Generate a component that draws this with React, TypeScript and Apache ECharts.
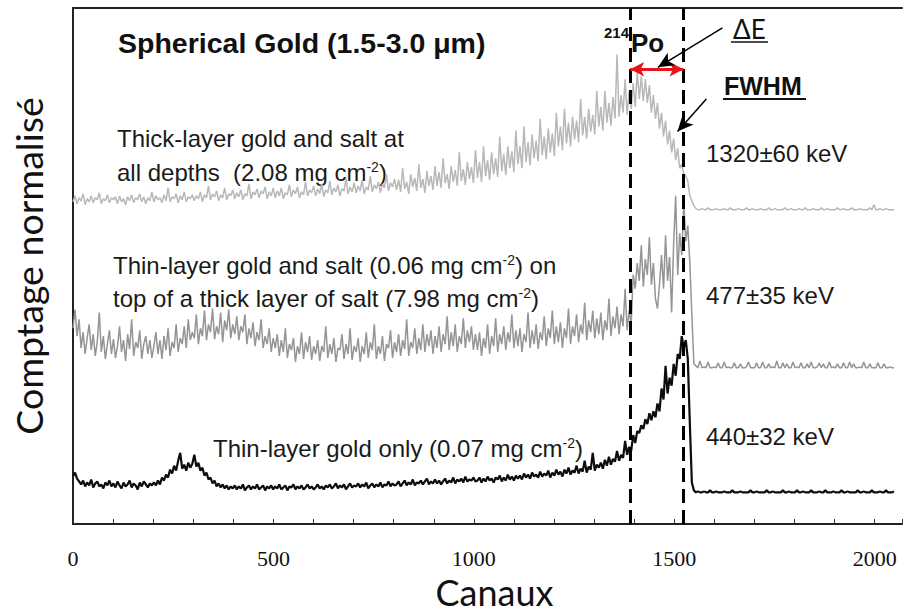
import React, { useEffect, useRef } from "react";
import * as echarts from "echarts";

// Spacing, in channels, of the readings below (channel = index * CHANNEL_STEP)
const CHANNEL_STEP = 5.045;
const X_MAX = 2068;
const Y_MIN = -2;
const Y_MAX = 520;
const X_LABELS = [0, 500, 1000, 1500, 2000];

// Thick-layer gold and salt at all depths (light grey, top trace)
const THICK_LAYER = [
  324, 330, 322, 328, 325, 332, 321, 327, 324, 330, 323, 328, 326, 333, 322, 327, 325, 331, 323, 328,
  326, 329, 322, 330, 324, 327, 321, 329, 325, 331, 323, 328, 326, 332, 324, 329, 322, 328, 325, 334,
  324, 330, 326, 328, 323, 331, 325, 338, 324, 329, 327, 332, 323, 330, 326, 334, 324, 329, 327, 331,
  325, 330, 327, 334, 324, 331, 328, 340, 326, 332, 329, 335, 325, 331, 328, 338, 326, 332, 330, 336,
  327, 333, 329, 336, 326, 332, 330, 342, 327, 334, 331, 337, 328, 335, 332, 339, 327, 334, 330, 338,
  328, 335, 330, 338, 327, 333, 331, 341, 329, 336, 332, 339, 328, 334, 331, 344, 330, 336, 333, 340,
  330, 337, 332, 342, 329, 336, 333, 345, 331, 338, 334, 341, 330, 337, 335, 348, 332, 339, 334, 343,
  333, 340, 335, 346, 332, 339, 336, 350, 334, 341, 337, 344, 333, 342, 338, 352, 335, 343, 339, 347,
  336, 346, 334, 358, 337, 344, 332, 352, 339, 348, 335, 362, 338, 347, 333, 355, 340, 350, 336, 360,
  340, 354, 338, 368, 343, 352, 337, 360, 344, 356, 340, 374, 345, 357, 341, 364, 347, 359, 343, 376,
  348, 364, 344, 380, 350, 366, 346, 374, 352, 368, 349, 390, 355, 372, 351, 380, 358, 375, 354, 396,
  362, 380, 358, 400, 364, 384, 361, 392, 368, 386, 365, 408, 371, 390, 367, 398, 374, 393, 370, 414,
  380, 400, 376, 418, 383, 404, 380, 410, 387, 406, 384, 428, 391, 410, 388, 418, 395, 412, 392, 436,
  400, 420, 396, 436, 404, 424, 401, 430, 408, 473, 410, 432, 414, 448, 412, 436, 418, 444, 420, 456,
  428, 451, 426, 448, 424, 442, 414, 432, 408, 424, 398, 414, 390, 406, 382, 396, 374, 388, 366, 378,
  358, 362, 352, 350, 345, 330, 325, 320, 317, 316, 316, 317, 316, 316, 318, 316, 316, 316, 317, 316,
  316, 316, 317, 316, 316, 318, 316, 316, 316, 317, 316, 316, 316, 318, 316, 316, 317, 316, 316, 316,
  317, 316, 316, 316, 318, 316, 316, 317, 316, 316, 316, 316, 318, 316, 316, 317, 316, 316, 316, 317,
  316, 316, 318, 316, 316, 316, 317, 316, 316, 316, 318, 316, 316, 317, 316, 316, 316, 316, 318, 316,
  316, 317, 316, 316, 316, 318, 316, 316, 316, 317, 316, 316, 316, 316, 318, 316, 321, 316, 316, 317,
  316, 316, 317, 316, 316, 316, 316,
];

// Thin-layer gold and salt on top of a thick layer of salt (mid grey)
const THIN_SALT = [
  196, 215, 188, 205, 176, 192, 170, 186, 200, 174, 190, 168, 182, 212, 172, 188, 165, 180, 194, 170,
  185, 166, 178, 198, 172, 184, 163, 190, 175, 205, 168, 182, 176, 194, 165, 180, 188, 170, 184, 166,
  178, 192, 170, 184, 165, 188, 174, 196, 168, 182, 176, 200, 172, 186, 180, 198, 176, 205, 184, 192,
  186, 210, 180, 196, 188, 214, 184, 200, 192, 216, 185, 198, 190, 212, 182, 204, 194, 215, 186, 200,
  190, 208, 184, 198, 192, 210, 180, 196, 186, 202, 178, 192, 184, 205, 176, 188, 180, 196, 172, 186,
  176, 190, 168, 184, 172, 196, 166, 180, 174, 186, 162, 178, 170, 192, 165, 182, 172, 188, 164, 178,
  170, 184, 163, 178, 172, 198, 166, 180, 170, 186, 162, 176, 174, 190, 165, 180, 170, 196, 164, 178,
  172, 186, 162, 178, 170, 192, 166, 182, 174, 200, 165, 178, 170, 188, 163, 180, 176, 194, 166, 182,
  172, 190, 168, 184, 175, 205, 168, 182, 176, 196, 170, 186, 174, 200, 172, 190, 178, 194, 170, 188,
  176, 198, 172, 190, 180, 208, 174, 192, 178, 200, 172, 188, 180, 206, 176, 194, 182, 198, 174, 190,
  174, 192, 168, 186, 176, 200, 170, 188, 178, 206, 172, 190, 180, 198, 174, 192, 182, 210, 176, 194,
  178, 196, 172, 190, 182, 212, 176, 194, 180, 200, 175, 192, 184, 208, 178, 196, 186, 214, 180, 198,
  182, 202, 176, 196, 186, 216, 180, 198, 188, 210, 182, 200, 190, 222, 184, 204, 192, 214, 186, 206,
  190, 212, 184, 204, 194, 226, 188, 208, 196, 218, 190, 210, 198, 236, 194, 214, 200, 250, 236, 262,
  244, 280, 238, 266, 250, 288, 240, 262, 226, 216, 240, 270, 236, 290, 244, 268, 212, 282, 330, 250,
  292, 270, 323, 284, 300, 262, 210, 160, 158, 156, 163, 156, 157, 156, 162, 156, 156, 157, 156, 161,
  156, 156, 162, 156, 157, 156, 156, 161, 156, 156, 160, 156, 156, 157, 162, 156, 156, 156, 161, 156,
  156, 162, 156, 156, 160, 156, 157, 156, 163, 156, 156, 161, 156, 160, 156, 156, 162, 156, 157, 156,
  161, 156, 156, 160, 156, 162, 156, 156, 157, 161, 156, 160, 156, 156, 162, 156, 157, 156, 160, 156,
  156, 161, 156, 156, 162, 156, 160, 156, 156, 157, 156, 162, 156, 156, 160, 156, 156, 156, 161, 156,
  156, 160, 156, 156, 157, 156, 156,
];

// Thin-layer gold only (black, bottom trace)
const THIN_GOLD = [
  46, 50, 44, 41, 38, 42, 36, 40, 37, 43, 35, 39, 41, 36, 38, 34, 40, 37, 42, 36,
  39, 35, 41, 37, 34, 40, 36, 38, 42, 35, 39, 37, 33, 40, 36, 41, 38, 35, 39, 37,
  40, 37, 42, 38, 45, 42, 48, 45, 53, 49, 57, 52, 62, 70, 54, 58, 52, 60, 55, 59,
  68, 56, 60, 52, 55, 47, 50, 43, 45, 39, 42, 36, 39, 35, 38, 34, 37, 33, 36, 34,
  37, 33, 36, 34, 38, 32, 35, 37, 33, 36, 34, 38, 33, 35, 37, 32, 36, 34, 37, 33,
  36, 34, 38, 33, 35, 37, 32, 36, 35, 38, 33, 36, 34, 37, 33, 35, 38, 34, 36, 33,
  35, 38, 34, 36, 33, 37, 35, 38, 34, 36, 39, 34, 37, 35, 38, 33, 36, 39, 35, 37,
  36, 39, 35, 38, 36, 40, 34, 37, 39, 35, 38, 36, 40, 35, 38, 37, 41, 36, 39, 37,
  38, 41, 36, 39, 42, 37, 40, 38, 43, 37, 40, 39, 42, 38, 41, 44, 38, 41, 39, 43,
  39, 42, 38, 41, 44, 39, 42, 40, 45, 39, 43, 41, 44, 40, 46, 41, 43, 42, 45, 41,
  42, 45, 40, 44, 41, 46, 42, 44, 40, 45, 43, 47, 41, 45, 42, 48, 43, 46, 42, 47,
  44, 47, 43, 49, 45, 48, 44, 50, 46, 48, 45, 51, 46, 49, 47, 52, 45, 50, 47, 53,
  48, 51, 46, 53, 49, 55, 48, 52, 50, 57, 49, 54, 51, 62, 50, 56, 53, 70, 52, 58,
  55, 60, 54, 63, 57, 66, 58, 64, 61, 72, 62, 68, 65, 82, 68, 76, 72, 88, 80, 92,
  90, 98, 94, 104, 99, 110, 103, 112, 106, 120, 112, 135, 124, 158, 130, 146, 138, 160, 148, 170,
  165, 188, 176, 184, 165, 100, 40, 32, 30, 31, 30, 30, 31, 30, 30, 32, 30, 30, 31, 30,
  30, 30, 31, 30, 30, 30, 32, 30, 30, 30, 31, 30, 30, 30, 30, 32, 30, 30, 31, 30,
  30, 30, 30, 32, 30, 30, 31, 30, 30, 30, 30, 32, 30, 30, 31, 30, 30, 30, 32, 30,
  30, 31, 30, 30, 30, 32, 30, 30, 30, 31, 30, 30, 32, 30, 30, 30, 31, 30, 30, 30,
  32, 30, 30, 31, 30, 30, 30, 30, 32, 30, 30, 31, 30, 30, 30, 32, 30, 30, 30, 31,
  30, 30, 32, 30, 30, 30, 31,
];

// 214Po window (dashed lines), in channels
const PO_WINDOW = [1390, 1523];
const DELTA_E_LEVEL = 458;
// Annotation arrows [from, to] in (channel, count) coordinates
const DELTA_E_ARROW = [[1620, 500], [1459, 460]];
const FWHM_ARROW = [[1580, 428], [1508, 395]];

const SANS = "'Liberation Sans', Arial, sans-serif";
const TXT = 24;

const toPairs = (vals: number[]) => vals.map((v, i) => [i * CHANNEL_STEP, v]);

const supRich = {
  n: { fontSize: TXT, fontFamily: SANS, fill: "#1a1a1a" },
  s: { fontSize: 14, fontFamily: SANS, fill: "#1a1a1a", verticalAlign: "top" },
};

function label(x: number, y: number, text: string, extra: any = {}) {
  return {
    type: "text",
    x,
    y,
    silent: true,
    style: {
      text,
      rich: supRich,
      fill: "#1a1a1a",
      fontSize: TXT,
      fontFamily: SANS,
      textAlign: "left",
      textVerticalAlign: "middle",
      ...extra,
    },
  };
}

export default function App() {
  const ref = useRef<HTMLDivElement>(null);

  useEffect(() => {
    document.body.style.margin = "0";
    if (!ref.current) return;
    const chart = echarts.init(ref.current, undefined, { renderer: "svg" });

    const arrowLine = (pts: number[][], color: string, width: number) => [
      { coord: pts[0], symbol: "none", lineStyle: { color, width, type: "solid" } },
      { coord: pts[1], symbol: "arrow", symbolSize: [11, 16] },
    ];

    const option: any = {
      animation: false,
      backgroundColor: "#ffffff",
      grid: { left: 73, top: 8, right: 0, bottom: 85, containLabel: false },
      xAxis: [
        {
          type: "value",
          min: 0,
          max: X_MAX,
          interval: 100,
          name: "Canaux",
          nameLocation: "middle",
          nameGap: 50,
          nameTextStyle: { fontFamily: "Lato", fontSize: 36, color: "#111", padding: [0, 0, 0, 14] },
          axisLine: { show: true, onZero: false, lineStyle: { color: "#222", width: 2 } },
          axisTick: { show: true, inside: true, length: 5, lineStyle: { color: "#333", width: 1 } },
          axisLabel: {
            margin: 23,
            fontFamily: "'Liberation Serif', 'Times New Roman', serif",
            fontSize: 22,
            color: "#111",
            formatter: (v: number) => (X_LABELS.includes(v) ? String(v) : ""),
          },
          splitLine: { show: false },
        },
        {
          type: "value",
          position: "top",
          min: 0,
          max: X_MAX,
          axisLine: { show: true, onZero: false, lineStyle: { color: "#222", width: 2 } },
          axisTick: { show: false },
          axisLabel: { show: false },
          splitLine: { show: false },
        },
      ],
      yAxis: {
        type: "value",
        min: Y_MIN,
        max: Y_MAX,
        name: "Comptage normalisé",
        nameLocation: "middle",
        nameGap: 26,
        nameTextStyle: { fontFamily: "Lato", fontSize: 37.5, color: "#111" },
        axisLine: { show: true, onZero: false, lineStyle: { color: "#222", width: 2 } },
        axisTick: { show: false },
        axisLabel: { show: false },
        splitLine: { show: false },
      },
      series: [
        {
          type: "line",
          name: "Thick-layer gold and salt",
          data: toPairs(THICK_LAYER),
          showSymbol: false,
          symbol: "none",
          silent: true,
          z: 2,
          lineStyle: { color: "#b8b8b8", width: 1.5 },
        },
        {
          type: "line",
          name: "Thin-layer gold and salt",
          data: toPairs(THIN_SALT),
          showSymbol: false,
          symbol: "none",
          silent: true,
          z: 3,
          lineStyle: { color: "#959595", width: 1.5 },
        },
        {
          type: "line",
          name: "Thin-layer gold only",
          data: toPairs(THIN_GOLD),
          showSymbol: false,
          symbol: "none",
          silent: true,
          z: 4,
          lineStyle: { color: "#0d0d0d", width: 2.2 },
          markLine: {
            silent: true,
            animation: false,
            symbol: "none",
            label: { show: false },
            data: [
              { xAxis: PO_WINDOW[0], lineStyle: { color: "#000", width: 3, type: [14, 7] } },
              { xAxis: PO_WINDOW[1], lineStyle: { color: "#000", width: 3, type: [14, 7] } },
              [
                {
                  coord: [PO_WINDOW[0], DELTA_E_LEVEL],
                  symbol: "arrow",
                  symbolSize: [11, 14],
                  lineStyle: { color: "#e8141c", width: 3, type: "solid" },
                },
                { coord: [PO_WINDOW[1], DELTA_E_LEVEL], symbol: "arrow", symbolSize: [11, 14] },
              ],
              arrowLine(DELTA_E_ARROW, "#000", 1.5),
              arrowLine(FWHM_ARROW, "#000", 1.5),
            ],
          },
        },
      ],
      graphic: [
        label(118, 43, "Spherical Gold (1.5-3.0 μm)", { fontSize: 28.5, fontWeight: "bold", fill: "#111" }),
        label(117, 138, "{n|Thick-layer gold and salt at}"),
        label(117, 172, "{n|all depths  (2.08 mg cm}{s|-2}{n|)}"),
        label(113, 265, "{n|Thin-layer gold and salt (0.06 mg cm}{s|-2}{n|) on}"),
        label(113, 298, "{n|top of a thick layer of salt (7.98 mg cm}{s|-2}{n|)}"),
        label(213, 448, "{n|Thin-layer gold only (0.07 mg cm}{s|-2}{n|)}"),
        label(706, 153, "1320±60 keV"),
        label(706, 295, "477±35 keV"),
        label(706, 436, "440±32 keV"),
        label(604, 32, "214", { fontSize: 15, fontWeight: "bold", fill: "#111" }),
        label(631, 43, "Po", { fontSize: 26, fontWeight: "bold", fill: "#111" }),
        label(733, 29, "ΔE", { fontSize: 26, fontFamily: "Lato", fill: "#111" }),
        {
          type: "line",
          silent: true,
          shape: { x1: 731, y1: 42, x2: 768, y2: 42 },
          style: { stroke: "#111", lineWidth: 1.5 },
        },
        label(724, 86, "FWHM", { fontSize: 25, fontWeight: "bold", fill: "#111" }),
        {
          type: "line",
          silent: true,
          shape: { x1: 723, y1: 99, x2: 806, y2: 99 },
          style: { stroke: "#111", lineWidth: 2 },
        },
      ],
    };

    chart.setOption(option);
    return () => chart.dispose();
  }, []);

  return <div ref={ref} style={{ width: 905, height: 615 }} />;
}
